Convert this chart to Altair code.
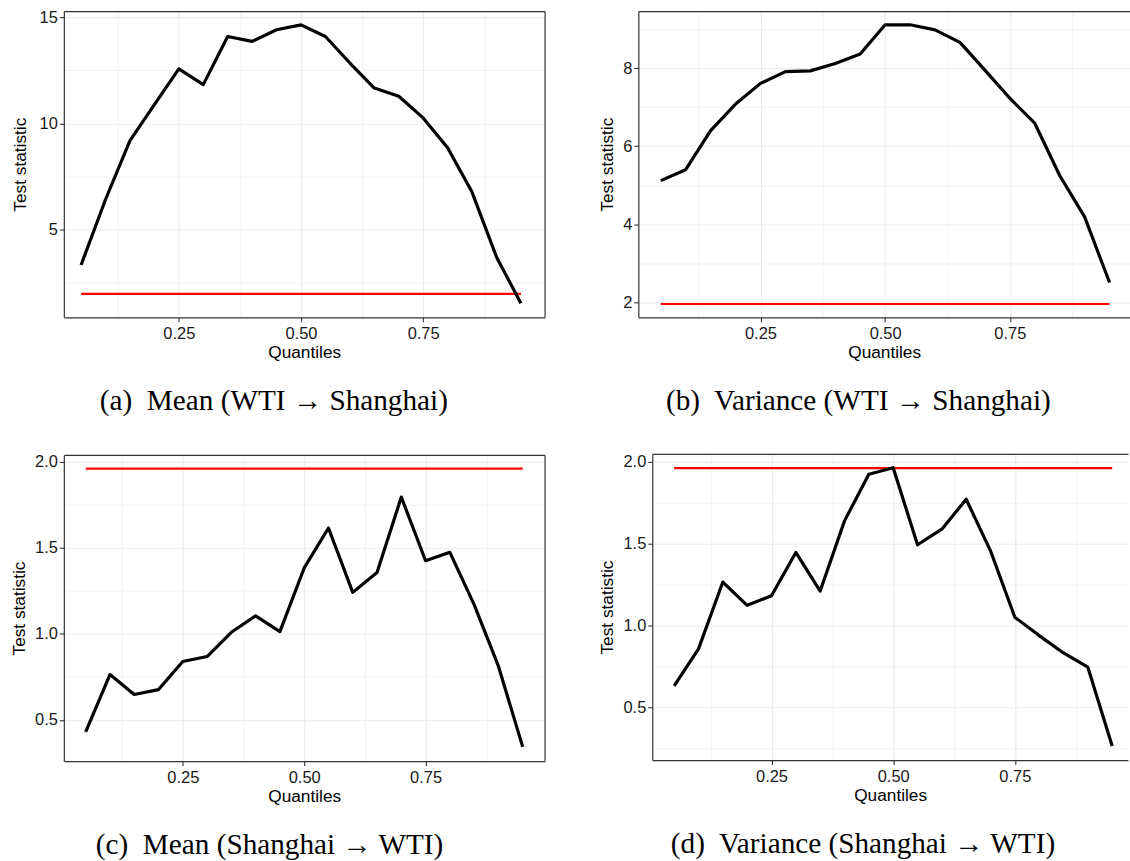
import altair as alt
import pandas as pd

# ---------------- data ----------------
quantiles = [0.05, 0.10, 0.15, 0.20, 0.25, 0.30, 0.35, 0.40, 0.45, 0.50,
             0.55, 0.60, 0.65, 0.70, 0.75, 0.80, 0.85, 0.90, 0.95]

mean_wti_to_shanghai = [3.32, 6.41, 9.19, 10.89, 12.57, 11.83, 14.10, 13.87, 14.42, 14.65,
                        14.10, 12.85, 11.67, 11.28, 10.26, 8.85, 6.76, 3.70, 1.51]
var_wti_to_shanghai = [5.12, 5.40, 6.40, 7.08, 7.61, 7.91, 7.93, 8.12, 8.36, 9.11,
                       9.11, 8.98, 8.66, 7.95, 7.23, 6.59, 5.25, 4.19, 2.51]
mean_shanghai_to_wti = [0.430, 0.763, 0.647, 0.676, 0.839, 0.868, 1.009, 1.104, 1.013, 1.383,
                        1.615, 1.241, 1.357, 1.795, 1.425, 1.474, 1.170, 0.812, 0.343]
var_shanghai_to_wti = [0.630, 0.856, 1.264, 1.122, 1.181, 1.445, 1.209, 1.638, 1.923, 1.963,
                       1.492, 1.587, 1.770, 1.455, 1.049, 0.937, 0.831, 0.744, 0.262]

critical_value = 1.96

captions = [
    "(a)\u00a0 Mean (WTI \u2192 Shanghai)",
    "(b)\u00a0 Variance (WTI \u2192 Shanghai)",
    "(c)\u00a0 Mean (Shanghai \u2192 WTI)",
    "(d)\u00a0 Variance (Shanghai \u2192 WTI)",
]

x_major = [0.25, 0.50, 0.75]
x_minor = [0.125, 0.375, 0.625, 0.875]

y_major_a = [5, 10, 15]
y_minor_a = [2.5, 7.5, 12.5]
y_major_b = [2, 4, 6, 8]
y_minor_b = [3, 5, 7, 9]
y_major_c = [0.5, 1.0, 1.5, 2.0]
y_minor_c = [0.75, 1.25, 1.75]
y_major_d = [0.5, 1.0, 1.5, 2.0]
y_minor_d = [0.25, 0.75, 1.25, 1.75]

PANEL_H = 307
SANS = "Liberation Sans"
SERIF = "Liberation Serif"


def panel(values, y_domain, y_major, y_minor, y_format, caption, width, x_min,
          x_max, right_border, cap_dx, y_title_pad):
    df = pd.DataFrame({"q": quantiles, "v": values})
    crit = pd.DataFrame({"q": [quantiles[0], quantiles[-1]],
                         "v": [critical_value, critical_value]})
    xs = alt.Scale(domain=[x_min, x_max], nice=False, zero=False)
    ys = alt.Scale(domain=y_domain, nice=False, zero=False)

    main = alt.Chart(df).mark_line(
        color="black", strokeWidth=3.2, strokeJoin="round"
    ).encode(
        x=alt.X("q:Q", scale=xs,
                axis=alt.Axis(orient="bottom", values=x_major, format=".2f",
                              title="Quantiles", grid=True, gridWidth=1.1,
                              domain=True, labelPadding=3.5, titlePadding=2,
                              minExtent=0)),
        y=alt.Y("v:Q", scale=ys,
                axis=alt.Axis(orient="left", values=y_major, format=y_format,
                              title="Test statistic", grid=True, gridWidth=1.1,
                              domain=True, labelPadding=2, titlePadding=y_title_pad,
                              minExtent=0)),
    )
    red = alt.Chart(crit).mark_line(color="#FF0000", strokeWidth=2.2).encode(
        x=alt.X("q:Q", scale=xs,
                axis=alt.Axis(orient="top", values=x_minor, labels=False,
                              ticks=False, title=None, grid=True, gridWidth=0.6,
                              domain=True, minExtent=0, maxExtent=0)),
        y=alt.Y("v:Q", scale=ys,
                axis=alt.Axis(orient="right", values=y_minor, labels=False,
                              ticks=False, title=None, grid=True, gridWidth=0.6,
                              domain=right_border, minExtent=0, maxExtent=0)),
    )
    return alt.layer(red, main).resolve_axis(
        x="independent", y="independent"
    ).properties(
        width=width,
        height=PANEL_H,
        title=alt.TitleParams(
            caption, orient="bottom", anchor="middle", frame="bounds",
            font=SERIF, fontSize=29.3, fontWeight="normal", color="black",
            offset=26, dx=cap_dx,
        ),
    )


pa = panel(mean_wti_to_shanghai, [0.85, 15.3], y_major_a, y_minor_a, "d",
           captions[0], 482, 0.0147, 0.9984, True, -4, 10)
pb = panel(var_wti_to_shanghai, [1.62, 9.46], y_major_b, y_minor_b, "d",
           captions[1], 493, 0.005, 0.991, False, -6, 6)
pc = panel(mean_shanghai_to_wti, [0.26, 2.04], y_major_c, y_minor_c, ".1f",
           captions[2], 482, 0.005, 0.995, True, -8, 6)
pd_ = panel(var_shanghai_to_wti, [0.176, 2.047], y_major_d, y_minor_d, ".1f",
            captions[3], 477, 0.005, 0.9825, False, -0.5, 6)

chart = alt.concat(
    pa, pb, pc, pd_, columns=2, align="none",
    spacing={"row": 36, "column": 54},
).properties(
    padding={"left": 10, "top": 8, "right": 0, "bottom": 0},
    background="white",
).configure_view(
    stroke=None
).configure_axis(
    labelFont=SANS, labelFontSize=16.5, labelColor="#1a1a1a",
    titleFont=SANS, titleFontSize=17.3, titleFontWeight="normal", titleColor="black",
    tickColor="#333333", tickSize=4.5, tickWidth=1.1,
    domainColor="#333333", domainWidth=1.2,
    gridColor="#EBEBEB", minExtent=0,
)

chart.save("out.html", embed_options={"renderer": "svg", "actions": False})
